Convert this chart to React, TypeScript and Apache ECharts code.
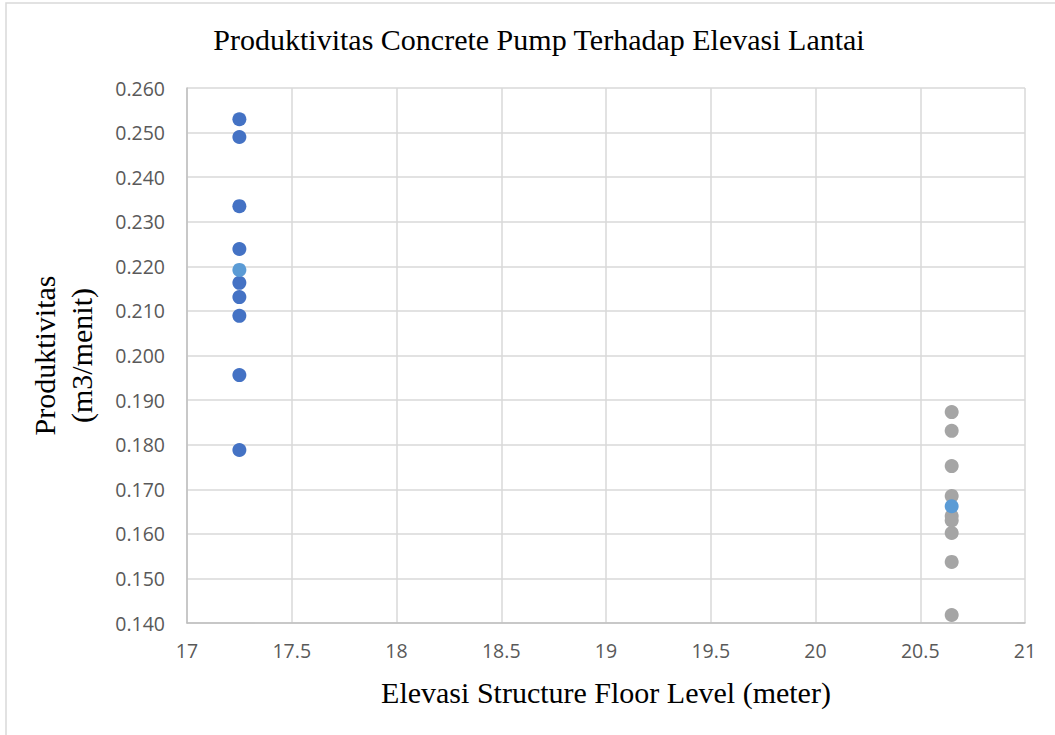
import React, { useEffect, useRef } from "react";
import * as echarts from "echarts";

const leftX = 17.25;
const rightX = 20.65;
const leftValues = [0.253, 0.249, 0.2335, 0.2239, 0.2163, 0.2131, 0.2089, 0.1956, 0.1788];
const leftAverage = [0.2192];
const rightValues = [0.1873, 0.1831, 0.1752, 0.1685, 0.164, 0.163, 0.1602, 0.1537, 0.1418];
const rightAverage = [0.1662];
const xTicks = [17, 17.5, 18, 18.5, 19, 19.5, 20, 20.5, 21];
const yTicks = [0.14, 0.15, 0.16, 0.17, 0.18, 0.19, 0.2, 0.21, 0.22, 0.23, 0.24, 0.25, 0.26];

const serif = "'Liberation Serif', 'Times New Roman', serif";
const sans = "'Open Sans', 'Liberation Sans', sans-serif";

export default function App() {
  const ref = useRef<HTMLDivElement>(null);
  useEffect(() => {
    if (!ref.current) return;
    const chart = echarts.init(ref.current, null, { renderer: "svg" });
    const pts = (x: number, arr: number[]) => arr.map((v) => [x, v]);
    chart.setOption({
      animation: false,
      backgroundColor: "#ffffff",
      title: {
        text: "Produktivitas Concrete Pump Terhadap Elevasi Lantai",
        left: 534,
        textAlign: "center",
        top: 19,
        textStyle: { fontFamily: serif, fontSize: 30, fontWeight: "normal", color: "#000000" },
      },
      graphic: [
        {
          type: "rect",
          shape: { x: 6, y: 3, width: 1060, height: 750 },
          style: { fill: "none", stroke: "#D9D9D9", lineWidth: 1.5 },
          silent: true,
          z: -1,
        },
      ],
      grid: { left: 187, right: 30, top: 88, bottom: 112, containLabel: false },
      xAxis: {
        type: "value",
        min: xTicks[0],
        max: xTicks[xTicks.length - 1],
        interval: 0.5,
        name: "Elevasi Structure Floor Level (meter)",
        nameLocation: "middle",
        nameGap: 54,
        nameTextStyle: { fontFamily: serif, fontSize: 30, color: "#000000" },
        axisLine: { show: true, lineStyle: { color: "#BFBFBF", width: 1.5 } },
        axisTick: { show: false },
        axisLabel: {
          fontFamily: sans,
          fontSize: 19.5,
          color: "#595959",
          margin: 17,
          formatter: (v: number) => String(v),
        },
        splitLine: { show: true, lineStyle: { color: "#D9D9D9", width: 1.5 } },
      },
      yAxis: {
        type: "value",
        min: yTicks[0],
        max: yTicks[yTicks.length - 1],
        interval: 0.01,
        name: "Produktivitas\n(m3/menit)",
        nameLocation: "middle",
        nameRotate: 90,
        nameGap: 87,
        nameTextStyle: { fontFamily: serif, fontSize: 30, color: "#000000", lineHeight: 37 },
        axisLine: { show: true, lineStyle: { color: "#BFBFBF", width: 1.5 } },
        axisTick: { show: false },
        axisLabel: {
          fontFamily: sans,
          fontSize: 19.5,
          color: "#595959",
          margin: 22,
          formatter: (v: number) => v.toFixed(3),
        },
        splitLine: { show: true, lineStyle: { color: "#D9D9D9", width: 1.5 } },
      },
      series: [
        {
          type: "scatter",
          data: pts(leftX, leftValues),
          symbolSize: 14,
          itemStyle: { color: "#4472C4", opacity: 1 },
          z: 2,
        },
        {
          type: "scatter",
          data: pts(leftX, leftAverage),
          symbolSize: 14,
          itemStyle: { color: "#5B9BD5", opacity: 1 },
          z: 3,
        },
        {
          type: "scatter",
          data: pts(rightX, rightValues),
          symbolSize: 14,
          itemStyle: { color: "#A5A5A5", opacity: 1 },
          z: 2,
        },
        {
          type: "scatter",
          data: pts(rightX, rightAverage),
          symbolSize: 14,
          itemStyle: { color: "#5B9BD5", opacity: 1 },
          z: 3,
        },
      ],
    });
    return () => chart.dispose();
  }, []);
  return (
    <div
      ref={ref}
      style={{ position: "absolute", left: 0, top: 0, width: 1055, height: 735 }}
    />
  );
}
